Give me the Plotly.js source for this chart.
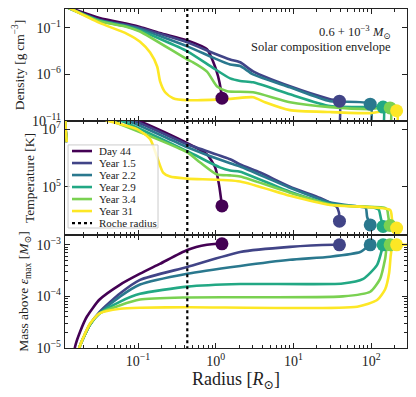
<!DOCTYPE html>
<html>
<head>
<meta charset="utf-8">
<script src="https://cdn.plot.ly/plotly-3.0.1.min.js"></script>
<style>
  html, body { margin: 0; padding: 0; background: #fff; }
  #chart { width: 416px; height: 397px; }
</style>
</head>
<body>
<div id="chart"></div>
<script>
// Серії (радіус у R_sun, значення по y зберігаю як log10)
var names = ['Day 44', 'Year 1.5', 'Year 2.2', 'Year 2.9', 'Year 3.4', 'Year 31'];
var colors = ['#440154', '#414487', '#2a788e', '#22a884', '#7ad151', '#fde725'];
var rocheRadius = 0.43;

// Густина, log10 [g cm^-3]
var densR = [
	[0.0122, 0.032, 0.072, 0.106, 0.19, 0.43, 0.77, 0.92, 1.07, 1.17, 1.2],
	[0.0122, 0.032, 0.072, 0.106, 0.43, 0.92, 1.53, 2.06, 3.02, 9.0, 29.6, 38.6, 38.9],
	[0.0122, 0.032, 0.072, 0.106, 0.43, 0.92, 1.53, 2.06, 3.02, 9.0, 29.6, 97, 97.8],
	[0.0122, 0.032, 0.072, 0.106, 0.43, 0.92, 1.53, 2.06, 3.02, 9.0, 29.6, 97, 142, 143],
	[0.0122, 0.032, 0.072, 0.106, 0.43, 0.51, 0.77, 1.04, 1.4, 3.02, 9.0, 29.6, 97, 175, 176],
	[0.0122, 0.032, 0.072, 0.106, 0.143, 0.176, 0.192, 0.223, 0.282, 0.43, 1.53, 3.02, 4.3, 9.0, 29.6, 97, 212, 214]
];
var densLog = [
	[1.25, 0.06, -0.57, -0.9, -1.55, -2.35, -3.3, -4.6, -6.2, -7.8, -8.55],
	[1.2, -0.15, -0.7, -1.03, -2.56, -3.7, -4.4, -4.7, -5.68, -7.28, -8.66, -8.87, -12],
	[1.2, -0.2, -0.8, -1.14, -2.99, -4.2, -4.94, -5.1, -6.0, -7.38, -8.87, -9.19, -12],
	[1.2, -0.25, -0.85, -1.29, -3.52, -5.3, -6.43, -6.7, -6.85, -8.13, -9.4, -9.51, -9.5, -12],
	[1.2, -0.3, -0.9, -1.39, -4.4, -4.7, -5.7, -7.3, -7.8, -7.91, -8.98, -9.51, -9.72, -9.6, -12],
	[1.25, -0.47, -1.64, -2.49, -3.66, -5.15, -6.74, -7.91, -8.55, -8.77, -8.62, -8.45, -8.98, -9.83, -10.04, -10.15, -9.9, -12]
];

// Температура, log10 [K]
var tempR = [
	[0.0121, 0.0123, 0.097, 0.43, 0.77, 0.98, 1.1, 1.2],
	[0.0121, 0.0123, 0.086, 0.43, 1.53, 2.06, 3.72, 9.0, 22, 29.6, 36, 38.4, 39],
	[0.0121, 0.0123, 0.072, 0.43, 1.53, 2.06, 9.0, 29.6, 72, 85, 88.5, 97],
	[0.0121, 0.0123, 0.059, 0.43, 1.13, 1.53, 2.06, 9.0, 29.6, 112, 125, 133, 142],
	[0.0121, 0.0123, 0.044, 0.43, 0.63, 1.04, 1.53, 2.06, 9.0, 29.6, 150, 160, 167, 175],
	[0.0121, 0.0123, 0.040, 0.097, 0.143, 0.176, 0.21, 0.258, 0.43, 2.06, 9.0, 29.6, 175, 186, 212]
];
var tempLog = [
	[6.55, 7.8, 7.3, 6.51, 6.12, 5.67, 5.07, 4.33],
	[6.55, 7.8, 7.3, 6.47, 5.95, 5.77, 5.49, 5.0, 4.61, 4.44, 4.3, 4.1, 3.8],
	[6.55, 7.8, 7.3, 6.37, 5.81, 5.7, 4.96, 4.45, 4.3, 4.26, 3.95, 3.67],
	[6.55, 7.8, 7.3, 6.23, 5.67, 5.56, 5.52, 4.82, 4.4, 4.26, 4.2, 3.9, 3.62],
	[6.55, 7.8, 7.3, 6.19, 5.84, 5.42, 5.39, 5.35, 4.79, 4.38, 4.26, 4.2, 3.9, 3.65],
	[6.55, 7.8, 7.3, 7.0, 6.65, 6.02, 5.49, 5.35, 5.28, 5.18, 4.68, 4.36, 4.19, 3.84, 3.56]
];

// Маса над eps_max, log10 [M_sun]
var massR = [
	[0.0145, 0.0155, 0.018, 0.022, 0.032, 0.059, 0.106, 0.19, 0.43, 0.77, 1.04, 1.2],
	[0.0165, 0.0175, 0.024, 0.032, 0.059, 0.106, 0.43, 2.06, 9.0, 33, 39],
	[0.0165, 0.0175, 0.024, 0.032, 0.059, 0.106, 0.43, 2.06, 9.0, 29.6, 72, 88.5, 97],
	[0.0165, 0.0175, 0.024, 0.032, 0.059, 0.106, 0.43, 2.06, 43, 79, 119, 138, 142],
	[0.0165, 0.0175, 0.024, 0.032, 0.059, 0.106, 0.43, 43, 97, 130, 151, 160, 175],
	[0.0165, 0.0175, 0.024, 0.032, 0.059, 0.106, 0.43, 66, 119, 151, 170, 178, 186, 212, 290]
];
var massLog = [
	[-5.3, -4.97, -4.68, -4.39, -4.06, -3.77, -3.56, -3.37, -3.1, -3.0, -2.98, -2.98],
	[-5.3, -5.0, -4.55, -4.3, -3.94, -3.68, -3.43, -3.14, -3.04, -3.0, -3.0],
	[-5.3, -5.0, -4.55, -4.32, -4.0, -3.77, -3.56, -3.41, -3.29, -3.23, -3.14, -3.04, -3.0],
	[-5.3, -5.0, -4.55, -4.33, -4.1, -3.95, -3.81, -3.76, -3.75, -3.66, -3.39, -3.08, -3.0],
	[-5.3, -5.0, -4.55, -4.33, -4.17, -4.06, -4.02, -4.0, -3.91, -3.66, -3.27, -3.03, -3.0],
	[-5.3, -5.0, -4.53, -4.33, -4.24, -4.22, -4.21, -4.2, -4.07, -3.86, -3.54, -3.21, -3.05, -3.0, -3.0]
];

// Поверхня (кружечки)
var surfR = [1.2, 39, 97, 142, 175, 212];
var surfRho = [-8.55, -8.87, -9.19, -9.5, -9.6, -9.9];
var surfT = [4.33, 3.8, 3.67, 3.62, 3.65, 3.56];
var surfM = [-2.98, -3.0, -3.0, -3.0, -3.0, -3.0];

// Підписи осей
var xTickVals = [0.1, 1, 10, 100];
var xTickText = ['10<sup>\u22121</sup>', '10<sup>0</sup>', '10<sup>1</sup>', '10<sup>2</sup>'];
var densTickVals = [1e-11, 1e-6, 1e-1];
var densTickText = ['10<sup>\u221211</sup>', '10<sup>\u22126</sup>', '10<sup>\u22121</sup>'];
var tempTickVals = [1e5, 1e7];
var tempTickText = ['10<sup>5</sup>', '10<sup>7</sup>'];
var massTickVals = [1e-5, 1e-4, 1e-3];
var massTickText = ['10<sup>\u22125</sup>', '10<sup>\u22124</sup>', '10<sup>\u22123</sup>'];

function pow10(arr) {
	return arr.map(function (v) { return Math.pow(10, v); });
}

var FONT = 'Liberation Serif, DejaVu Serif, serif';
var data = [];

var panels = [
	{ r: densR, v: densLog, s: surfRho, xa: 'x', ya: 'y' },
	{ r: tempR, v: tempLog, s: surfT, xa: 'x2', ya: 'y2' },
	{ r: massR, v: massLog, s: surfM, xa: 'x3', ya: 'y3' }
];

// Лінії
panels.forEach(function (p) {
	for (var i = 0; i < names.length; i++) {
		data.push({
			x: p.r[i],
			y: pow10(p.v[i]),
			xaxis: p.xa, yaxis: p.ya,
			type: 'scatter', mode: 'lines',
			name: names[i],
			line: { color: colors[i], width: 2.6, shape: 'spline', smoothing: 0.6 },
			hoverinfo: 'skip'
		});
	}
});

// Кружечки на поверхні
panels.forEach(function (p) {
	for (var i = 0; i < names.length; i++) {
		data.push({
			x: [surfR[i]],
			y: pow10([p.s[i]]),
			xaxis: p.xa, yaxis: p.ya,
			type: 'scatter', mode: 'markers',
			marker: { color: colors[i], size: 13 },
			hoverinfo: 'skip'
		});
	}
});

// Радіус Роша
var rocheY = [[1e-14, 1e3], [1e2, 1e9], [1e-7, 1e-1]];
panels.forEach(function (p, pi) {
	data.push({
		x: [rocheRadius, rocheRadius],
		y: rocheY[pi],
		xaxis: p.xa, yaxis: p.ya,
		type: 'scatter', mode: 'lines',
		name: 'Roche radius',
		line: { color: '#000', width: 2.2, dash: 'dot' },
		hoverinfo: 'skip'
	});
});

function xAxis(showLabels) {
	return {
		type: 'log', range: [-1.94, 2.46],
		showline: true, linecolor: '#222', linewidth: 1.2, mirror: 'allticks',
		ticks: 'inside', ticklen: 5, tickwidth: 1, tickcolor: '#222',
		tickmode: 'array', tickvals: xTickVals, ticktext: xTickText,
		showticklabels: showLabels,
		tickfont: { family: FONT, size: 14, color: '#222' },
		minor: { ticks: 'inside', ticklen: 3, tickcolor: '#222', tickmode: 'linear', dtick: 'D1', showgrid: false },
		showgrid: false, zeroline: false
	};
}

function yAxis(range, dom, vals, text, title, minor) {
	var ax = {
		type: 'log', range: range, domain: dom,
		showline: true, linecolor: '#222', linewidth: 1.2, mirror: 'allticks',
		ticks: 'inside', ticklen: 5, tickwidth: 1, tickcolor: '#222',
		tickmode: 'array', tickvals: vals, ticktext: text,
		tickfont: { family: FONT, size: 14, color: '#222' },
		title: { text: title, font: { family: FONT, size: 13.5, color: '#222' }, standoff: 4 },
		showgrid: false, zeroline: false
	};
	if (minor) {
		ax.minor = { ticks: 'inside', ticklen: 3, tickcolor: '#222', tickmode: 'linear', dtick: 'D1', showgrid: false };
	}
	return ax;
}

var xa3 = xAxis(true);
xa3.title = { text: 'Radius [<i>R</i><sub>\u2299</sub>]', font: { family: FONT, size: 18, color: '#222' }, standoff: 2 };
var xa1 = xAxis(false); xa1.anchor = 'y'; xa1.matches = 'x3';
var xa2 = xAxis(false); xa2.anchor = 'y2'; xa2.matches = 'x3';
xa3.anchor = 'y3';

// Легенда вручну (щільніша за стандартну)
var legNames = names.concat(['Roche radius']);
var legColors = colors.concat(['#000']);
var legTop = 0.581, legStep = 12 / 339;
var shapes = [{
	type: 'rect', xref: 'paper', yref: 'paper', x0: 0.009, x1: 0.272, y0: 0.354, y1: 0.599,
	line: { color: '#cccccc', width: 1 }, fillcolor: 'rgba(255,255,255,0.8)', layer: 'above'
}];
var annotations = [
	{ xref: 'paper', yref: 'paper', x: 0.959, y: 0.932, xanchor: 'right', yanchor: 'middle', showarrow: false,
		text: '0.6 + 10<sup>\u22123</sup> <i>M</i><sub>\u2299</sub>', font: { family: FONT, size: 12.5, color: '#222' } },
	{ xref: 'paper', yref: 'paper', x: 0.959, y: 0.888, xanchor: 'right', yanchor: 'middle', showarrow: false,
		text: 'Solar composition envelope', font: { family: FONT, size: 12.5, color: '#222' } }
];
legNames.forEach(function (n, i) {
	var yy = legTop - i * legStep;
	var isRoche = i === legNames.length - 1;
	shapes.push({
		type: 'line', xref: 'paper', yref: 'paper', x0: 0.0205, x1: 0.079, y0: yy, y1: yy,
		line: { color: legColors[i], width: isRoche ? 2.2 : 2.6, dash: isRoche ? 'dot' : 'solid' }, layer: 'above'
	});
	annotations.push({
		xref: 'paper', yref: 'paper', x: 0.0936, y: yy, xanchor: 'left', yanchor: 'middle', showarrow: false,
		text: n, font: { family: FONT, size: 11, color: '#222' }
	});
});

var layout = {
	width: 416, height: 397,
	margin: { l: 65, r: 9, t: 9, b: 49 },
	paper_bgcolor: '#fff', plot_bgcolor: '#fff',
	font: { family: FONT, color: '#222' },
	xaxis: xa1, xaxis2: xa2, xaxis3: xa3,
	yaxis: yAxis([-11, 1.02], [0.6696, 1], densTickVals, densTickText, 'Density [g\u2009cm<sup>\u22123</sup>]', false),
	yaxis2: yAxis([3.32, 7.28], [0.3333, 0.6696], tempTickVals, tempTickText, 'Temperature [K]', false),
	yaxis3: yAxis([-5, -2.81], [0, 0.3333], massTickVals, massTickText, 'Mass above <i>\u03b5</i><sub>max</sub> [<i>M</i><sub>\u2299</sub>]', true),
	showlegend: false,
	shapes: shapes,
	annotations: annotations
};

Plotly.newPlot('chart', data, layout, { displayModeBar: false, staticPlot: true });
</script>
</body>
</html>
